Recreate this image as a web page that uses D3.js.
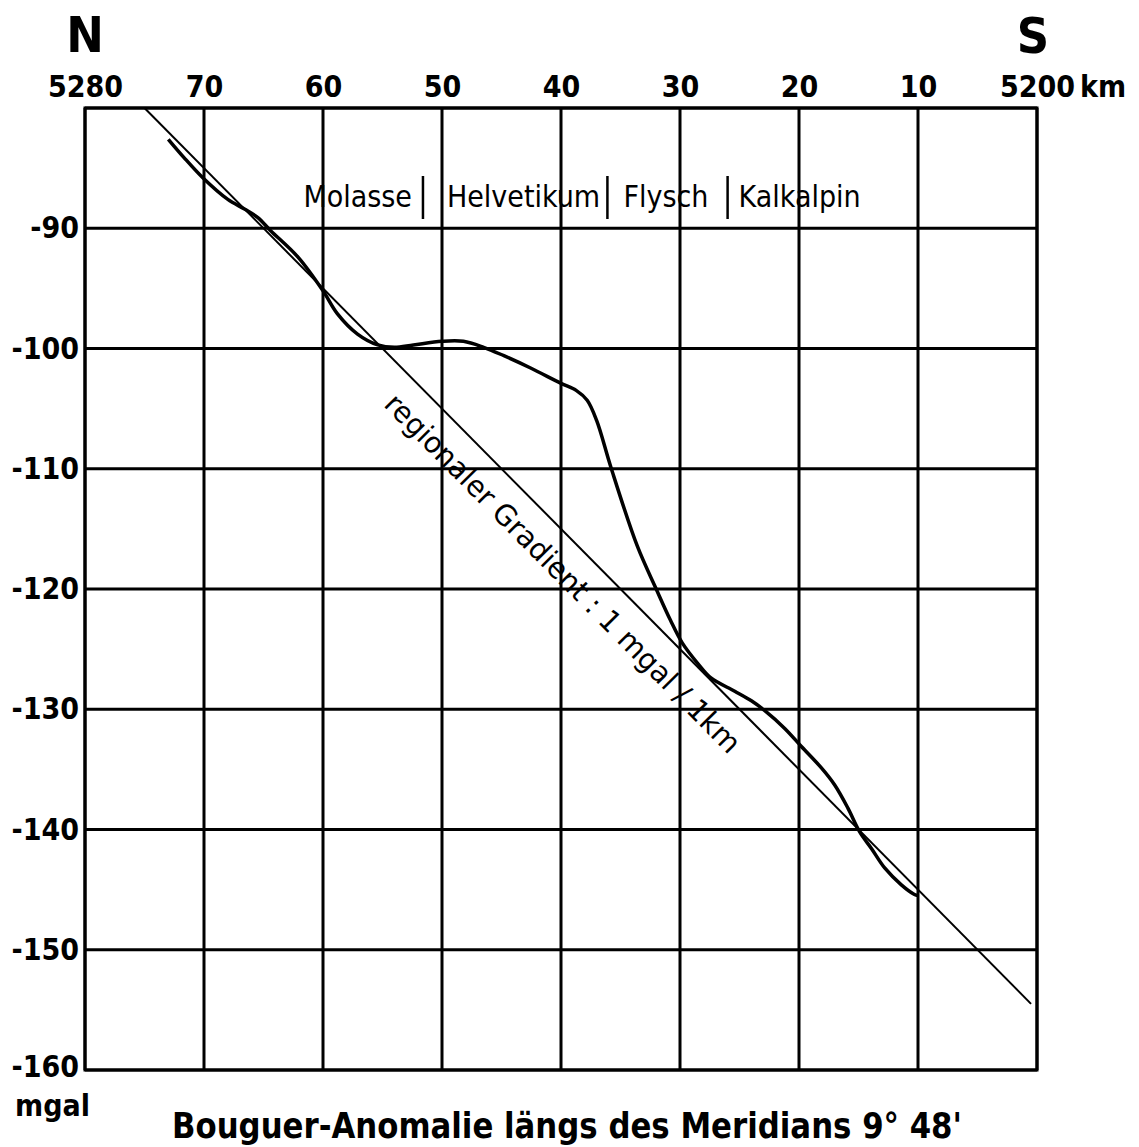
<!DOCTYPE html>
<html>
<head>
    <meta charset="UTF-8">
    <title>Bouguer-Anomalie längs des Meridians 9° 48'</title>
    <script src="https://cdn.jsdelivr.net/npm/d3@7"></script>
    <style>
        body {
            margin: 0;
            background-color: #fff;
        }
        svg text {
            font-family: "DejaVu Sans Condensed", "DejaVu Sans", sans-serif;
            font-stretch: condensed;
            fill: #000;
        }
        .grid line, .frame {
            stroke: #000;
            stroke-width: 3px;
            fill: none;
        }
        .axis text {
            font-size: 30px;
            font-weight: bold;
        }
        .axis .domain {
            display: none;
        }
        .regional {
            stroke: #000;
            stroke-width: 2px;
        }
        .profile {
            fill: none;
            stroke: #000;
            stroke-width: 3.5px;
        }
        .zone {
            font-size: 30px;
        }
        .sep {
            stroke: #000;
            stroke-width: 2.5px;
        }
    </style>
</head>
<body>
    <svg id="chart" width="1139" height="1147"></svg>

    <script>
        // distance axis (km, north -> south) and tick labels
        var kmTicks = [5280, 5270, 5260, 5250, 5240, 5230, 5220, 5210, 5200];
        var kmLabels = ["5280", "70", "60", "50", "40", "30", "20", "10", "5200"];

        // Bouguer anomaly axis (mgal)
        var mgalGrid = [-80, -90, -100, -110, -120, -130, -140, -150, -160];
        var mgalTicks = [-90, -100, -110, -120, -130, -140, -150, -160];
        var mgalLabels = ["-90", "-100", "-110", "-120", "-130", "-140", "-150", "-160"];

        var profileKm = [5273.0, 5271.7, 5270.1, 5268.0, 5266.6, 5265.5, 5264.4, 5262.1, 5260.0, 5258.8,
                         5257.1, 5255.4, 5254.0, 5252.4, 5250.0, 5248.2, 5246.5, 5244.8, 5242.6, 5240.0,
                         5238.7, 5237.8, 5237.0, 5235.8, 5233.6, 5232.0, 5230.8, 5229.8, 5228.5, 5227.4,
                         5225.4, 5224.0, 5222.9, 5221.2, 5219.8, 5218.1, 5217.0, 5215.9, 5214.9, 5213.9,
                         5212.8, 5211.4, 5210.3, 5210.0];
        var profileMgal = [-82.6, -84.1, -85.8, -87.6, -88.4, -89.1, -90.2, -92.4, -95.2, -97.1,
                           -98.8, -99.7, -99.9, -99.7, -99.4, -99.4, -99.9, -100.6, -101.6, -102.9,
                           -103.5, -104.3, -106.0, -109.9, -116.4, -120.0, -122.6, -124.5, -126.2, -127.4,
                           -128.5, -129.3, -130.1, -131.6, -133.1, -134.9, -136.3, -138.2, -140.2, -141.6,
                           -143.2, -144.6, -145.4, -145.5];

        // regional gradient: 1 mgal / 1 km
        var regionalKm = [5275, 5200.5];
        var regionalMgal = [-80, -154.5];

        // geological zones and their boundaries (km)
        var zoneNames = ["Molasse", "Helvetikum", "Flysch", "Kalkalpin"];
        var zoneBounds = [5251.6, 5236.1, 5226.0];

        var x = d3.scaleLinear().domain([5280, 5200]).range([85, 1037]);
        var y = d3.scaleLinear().domain([-80, -160]).range([108, 1070]);

        var svg = d3.select("#chart");

        // grid
        var grid = svg.append("g").attr("class", "grid");
        grid.selectAll(".v").data(kmTicks).enter().append("line")
            .attr("x1", function(d) { return x(d); })
            .attr("x2", function(d) { return x(d); })
            .attr("y1", y(-80))
            .attr("y2", y(-160));
        grid.selectAll(".h").data(mgalGrid).enter().append("line")
            .attr("x1", x(5280))
            .attr("x2", x(5200))
            .attr("y1", function(d) { return y(d); })
            .attr("y2", function(d) { return y(d); });

        svg.append("rect")
            .attr("class", "frame")
            .attr("x", x(5280))
            .attr("y", y(-80))
            .attr("width", x(5200) - x(5280))
            .attr("height", y(-160) - y(-80));

        // axes (labels only, the grid draws the lines)
        svg.append("g")
            .attr("class", "axis")
            .attr("transform", "translate(0," + y(-80) + ")")
            .call(d3.axisTop(x).tickValues(kmTicks).tickSize(0).tickPadding(11)
                .tickFormat(function(d, i) { return kmLabels[i]; }));

        var yAxis = svg.append("g")
            .attr("class", "axis")
            .attr("transform", "translate(" + x(5280) + ",0)")
            .call(d3.axisLeft(y).tickValues(mgalTicks).tickSize(0).tickPadding(6)
                .tickFormat(function(d, i) { return mgalLabels[i]; }));
        // bottom label sits a little higher in the original
        yAxis.selectAll(".tick text").filter(function(d) { return d === -160; }).attr("dy", "0.2em");

        svg.append("text")
            .attr("x", x(5200) + 43)
            .attr("y", y(-80) - 11)
            .style("font-size", "30px")
            .style("font-weight", "bold")
            .text("km");

        svg.append("text")
            .attr("x", x(5280))
            .attr("y", 52)
            .attr("text-anchor", "middle")
            .style("font-size", "50px")
            .style("font-weight", "bold")
            .text("N");

        svg.append("text")
            .attr("x", x(5200) - 4)
            .attr("y", 53)
            .attr("text-anchor", "middle")
            .style("font-size", "50px")
            .style("font-weight", "bold")
            .text("S");

        // regional gradient line
        svg.append("line")
            .attr("class", "regional")
            .attr("x1", x(regionalKm[0]))
            .attr("y1", y(regionalMgal[0]))
            .attr("x2", x(regionalKm[1]))
            .attr("y2", y(regionalMgal[1]));

        var angle = Math.atan2(y(regionalMgal[1]) - y(regionalMgal[0]),
                               x(regionalKm[1]) - x(regionalKm[0])) * 180 / Math.PI;
        var labelKm = 5252.6;
        svg.append("text")
            .attr("transform", "translate(" + x(labelKm) + "," + y(labelKm - 5355) + ") rotate(" + angle + ")")
            .attr("x", 0)
            .attr("y", 40)
            .attr("textLength", 492)
            .attr("lengthAdjust", "spacingAndGlyphs")
            .style("font-size", "29px")
            .text("regionaler Gradient : 1 mgal / 1km");

        // profile
        var pts = profileKm.map(function(d, i) { return [d, profileMgal[i]]; });
        var line = d3.line()
            .x(function(d) { return x(d[0]); })
            .y(function(d) { return y(d[1]); })
            .curve(d3.curveCatmullRom);
        svg.append("path")
            .datum(pts)
            .attr("class", "profile")
            .attr("d", line);

        // zone labels
        var zy = 207;
        svg.append("text").attr("class", "zone").attr("x", x(zoneBounds[0]) - 11).attr("y", zy)
            .attr("text-anchor", "end").text(zoneNames[0]);
        svg.append("text").attr("class", "zone").attr("x", x(zoneBounds[0]) + 24).attr("y", zy).text(zoneNames[1]);
        svg.append("text").attr("class", "zone").attr("x", x(zoneBounds[1]) + 16).attr("y", zy).text(zoneNames[2]);
        svg.append("text").attr("class", "zone").attr("x", x(zoneBounds[2]) + 11).attr("y", zy).text(zoneNames[3]);

        svg.selectAll(".sep").data(zoneBounds).enter().append("line")
            .attr("class", "sep")
            .attr("x1", function(d) { return x(d); })
            .attr("x2", function(d) { return x(d); })
            .attr("y1", 176)
            .attr("y2", 219);

        // bottom texts
        svg.append("text")
            .attr("x", 15)
            .attr("y", 1116)
            .style("font-size", "30px")
            .style("font-weight", "bold")
            .text("mgal");

        svg.append("text")
            .attr("x", 172)
            .attr("y", 1138)
            .attr("textLength", 790)
            .attr("lengthAdjust", "spacingAndGlyphs")
            .style("font-size", "35px")
            .style("font-weight", "bold")
            .text("Bouguer-Anomalie längs des Meridians 9° 48'");
    </script>
</body>
</html>
